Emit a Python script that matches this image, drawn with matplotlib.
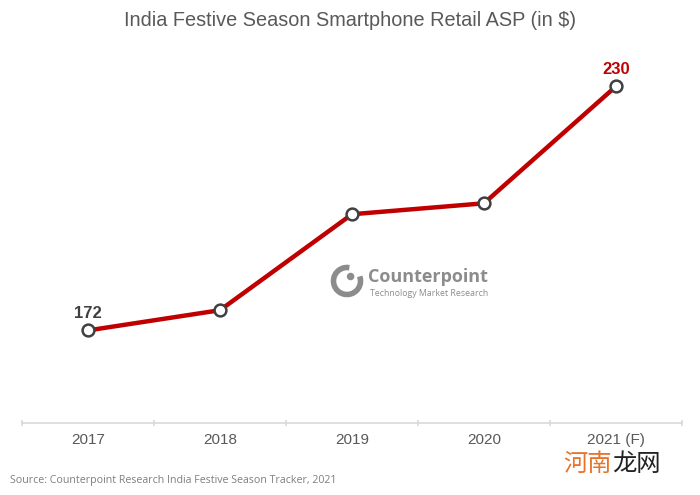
import matplotlib.pyplot as plt
from matplotlib.patches import Arc, Circle

years = ["2017", "2018", "2019", "2020", "2021 (F)"]
asp = [172, 176.8, 199.6, 202.2, 230]
labelled = {0: "172", 4: "230"}

W, H = 700, 495
fig = plt.figure(figsize=(7, 4.95), dpi=100)
fig.patch.set_facecolor("white")

# axes placed in pixel terms: x 22..682, y 40..423 (from top)
ax = fig.add_axes([22 / W, 1 - 423 / H, 660 / W, 383 / H])
ax.set_xlim(-0.5, len(years) - 0.5)
ax.set_ylim(150, 241)

x = list(range(len(years)))
ax.plot(x, asp, color="#c00000", lw=3.2, zorder=2, solid_capstyle="round")
ax.plot(x, asp, ls="none", marker="o", ms=8.5, mfc="white", mec="#404040",
        mew=1.8, zorder=3)

for i, txt in labelled.items():
    col = "#c00000" if i == len(years) - 1 else "#404040"
    ax.annotate(txt, (i, asp[i]), xytext=(0, 7), textcoords="offset points",
                ha="center", va="bottom", fontsize=12, fontweight="bold",
                color=col, family="Liberation Sans")

for s in ["top", "right", "left"]:
    ax.spines[s].set_visible(False)
ax.spines["bottom"].set_color("#d9d9d9")
ax.spines["bottom"].set_linewidth(1.2)
ax.set_yticks([])
ax.set_xticks(x)
ax.set_xticklabels(years, fontsize=11, color="#595959", family="Liberation Sans")
ax.tick_params(axis="x", length=0, pad=7)
# category boundary ticks
ax.set_xticks([i - 0.5 for i in range(len(years) + 1)], minor=True)
ax.tick_params(axis="x", which="minor", length=5, direction="inout",
               color="#d9d9d9", width=1.2)

fig.text(0.5, 1 - 20 / H, "India Festive Season Smartphone Retail ASP (in $)",
         ha="center", va="center", fontsize=14.3, color="#595959",
         family="Liberation Sans")

# Counterpoint watermark logo
fig.text(368 / W, 1 - 277 / H, "Counterpoint", ha="left", va="center",
         fontsize=13, fontweight="bold", color="#8c8c8c", family="Open Sans")
fig.text(370 / W, 1 - 293 / H, "Technology Market Research", ha="left",
         va="center", fontsize=6.3, color="#8c8c8c", family="Open Sans")
lax = fig.add_axes([329 / W, 1 - 299 / H, 36 / W, 36 / H])
lax.set_xlim(-1, 1)
lax.set_ylim(-1, 1)
lax.set_aspect("equal")
lax.axis("off")
lax.add_patch(Arc((0, 0), 1.5, 1.5, theta1=80, theta2=380, lw=4,
                  color="#8c8c8c"))
lax.add_patch(Circle((0.2, 0.25), 0.17, color="#8c8c8c"))

fig.text(10 / W, 1 - 480 / H,
         "Source: Counterpoint Research India Festive Season Tracker, 2021",
         ha="left", va="center", fontsize=7.7, color="#7f7f7f",
         family="Open Sans")

fig.text(563 / W, 1 - 464 / H, "河南", ha="left", va="center", fontsize=17.5,
         color="#e8732a", family="Noto Sans CJK SC")
fig.text(612 / W, 1 - 464 / H, "龙网", ha="left", va="center", fontsize=17.5,
         color="#222222", family="Noto Sans CJK SC")

fig.savefig("out.png", dpi=100, facecolor="white")
